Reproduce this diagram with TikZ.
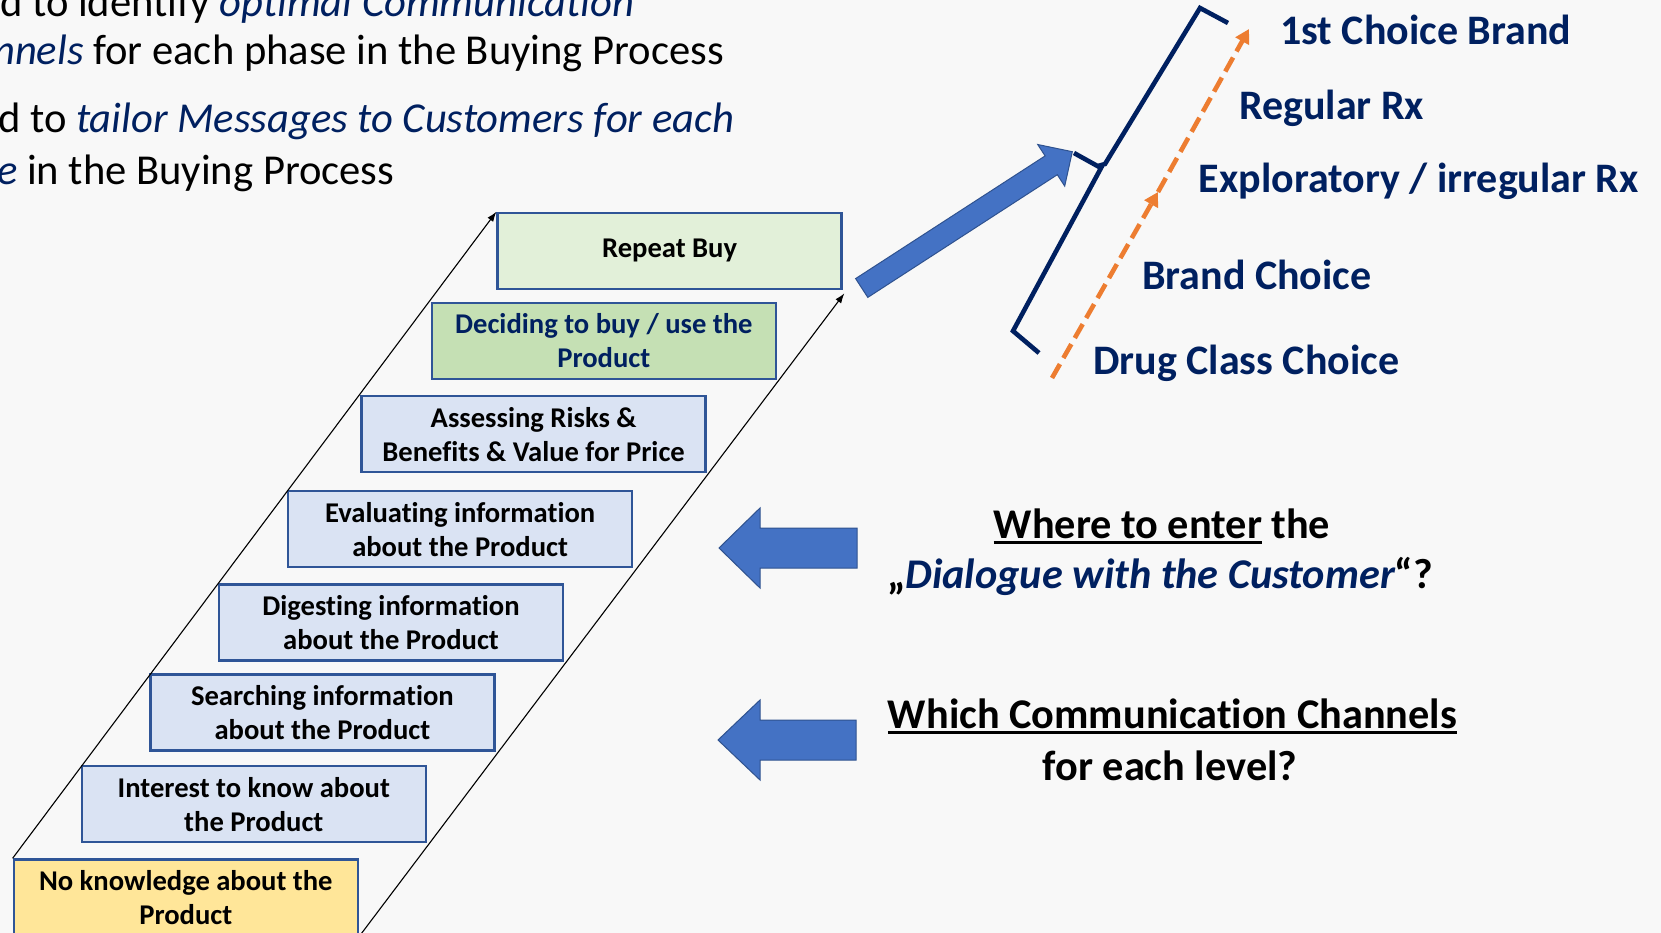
\documentclass[tikz,border=0pt]{standalone}
\usepackage{fontspec}
\setmainfont{Carlito}[Ligatures=NoCommon]
\usetikzlibrary{arrows.meta,calc}

\definecolor{inkblue}{RGB}{0,32,96}
\definecolor{boxedge}{RGB}{47,85,151}
\definecolor{paleblue}{RGB}{218,227,243}
\definecolor{palegreen}{RGB}{226,240,217}
\definecolor{midgreen}{RGB}{197,224,180}
\definecolor{paleyellow}{RGB}{255,230,153}
\definecolor{arrowblue}{RGB}{68,114,196}
\definecolor{arrowedge}{RGB}{47,82,143}
\definecolor{accent}{RGB}{237,125,49}
\definecolor{slidebg}{RGB}{248,248,248}

% underline drawn as a rule at a fixed depth below the baseline
\newcommand{\ulinetext}[1]{{\setbox0\hbox{#1}\rlap{\rule[-5.5pt]{\wd0}{2.2pt}}\box0}}

\begin{document}
\begin{tikzpicture}[x=1pt,y=-1pt,
  stagebox/.style={draw=boxedge, line width=2.4pt, fill=paleblue,
    minimum width=344pt, minimum height=76pt, inner sep=0pt,
    anchor=north west, align=center,
    font=\fontsize{28.6}{34}\selectfont\bfseries},
  choicetext/.style={inner sep=0pt, anchor=base west, text=inkblue,
    font=\fontsize{42}{50}\selectfont\bfseries},
  questiontext/.style={inner sep=0pt, anchor=base,
    font=\fontsize{42.3}{50}\selectfont\bfseries},
  bodytext/.style={inner sep=0pt, anchor=base west,
    font=\fontsize{42.6}{50}\selectfont},
  stairline/.style={black, line width=1.1pt, -{Latex[length=10pt,width=7pt]}},
  bigarrow/.style={fill=arrowblue, draw=arrowedge, line width=1pt, line join=miter},
  progress/.style={accent, line width=4.6pt, dash pattern=on 16pt off 7pt,
    -{Triangle[length=14pt,width=15pt]}},
  bracket/.style={inkblue, line width=4.6pt, line join=miter}
]
\clip (0,0) rectangle (1661,933);
\fill[slidebg] (0,0) rectangle (1661,933);

% introductory text, running in from the left edge
\node[bodytext] (t1) at (0,16.7) {d to identify \textcolor{inkblue}{\itshape optimal Communication}};
\node[bodytext] (t2) at (-7,65) {\textcolor{inkblue}{\itshape nnels} for each phase in the Buying Process};
\node[bodytext] (t3) at (-2,133) {d to \textcolor{inkblue}{\itshape tailor Messages to Customers for each}};
\node[bodytext] (t4) at (-3,185) {\textcolor{inkblue}{\itshape e} in the Buying Process};

% the staircase of buying stages
\node[stagebox, fill=paleyellow] (nok) at (12.6,858.3) {No knowledge about the\\Product};
\node[stagebox] (int) at (80.6,765) {Interest to know about\\the Product};
\node[stagebox] (sea) at (149.2,673.3) {Searching information\\about the Product};
\node[stagebox] (dig) at (217.8,583.3) {Digesting information\\about the Product};
\node[stagebox] (eva) at (286.9,490) {Evaluating information\\about the Product};
\node[stagebox] (ass) at (360.4,395) {Assessing Risks \&\\Benefits \& Value for Price};
\node[stagebox, fill=midgreen, text=inkblue] (dec) at (430.6,301.7) {Deciding to buy / use the\\Product};
\node[stagebox, fill=palegreen] (rb) at (496.4,211.7) {Repeat Buy};

% rails of the staircase
\draw[stairline] (nok.north west) -- (rb.north west);
\draw[stairline, shorten >=-1pt] (nok.south east) -- ($(rb.south east)+(1,4)$);

% block arrow towards the choice ladder
\draw[bigarrow] (855.6,278.6) -- (1045.1,155.9) -- (1037.7,144.5) -- (1072.3,151.7)
  -- (1064.7,186.1) -- (1057.3,174.7) -- (867.8,297.4) -- cycle;

% brace around the choice ladder
\draw[bracket] (1228,23) -- (1200,8) -- (1105,164) -- (1098,166);
\draw[bracket] (1074,153) -- (1101,168) -- (1013,331) -- (1039,353);

% dashed progression arrows
\coordinate (o1) at (1052,378);
\coordinate (o2) at (1158,192);
\coordinate (o3) at (1249,29);
\draw[progress] (o1) -- (o2);
\draw[progress] (o2) -- (o3);

% choice ladder labels
\node[choicetext] (c5) at (1280,45) {1st Choice Brand};
\node[choicetext] (c4) at (1239,120) {Regular Rx};
\node[choicetext] (c3) at (1198.6,193) {Exploratory / irregular Rx};
\node[choicetext] (c2) at (1142,289) {Brand Choice};
\node[choicetext] (c1) at (1093,374) {Drug Class Choice};

% left-pointing block arrows
\draw[bigarrow] (857,528) -- (760,528) -- (760,508) -- (719,548) -- (760,588)
  -- (760,568) -- (857,568) -- cycle;
\draw[bigarrow] (856,720) -- (760,720) -- (760,700) -- (718,740) -- (760,780)
  -- (760,760) -- (856,760) -- cycle;

% questions
\node[questiontext] (q1a) at (1162,538) {\ulinetext{Where to enter} the};
\node[questiontext] (q1b) at (1160,588) {„\textcolor{inkblue}{\itshape Dialogue with the Customer}“?};
\node[questiontext] (q2a) at (1172.5,728) {\ulinetext{Which Communication Channels}};
\node[questiontext] (q2b) at (1170,780) {for each level?};
\end{tikzpicture}
\end{document}
